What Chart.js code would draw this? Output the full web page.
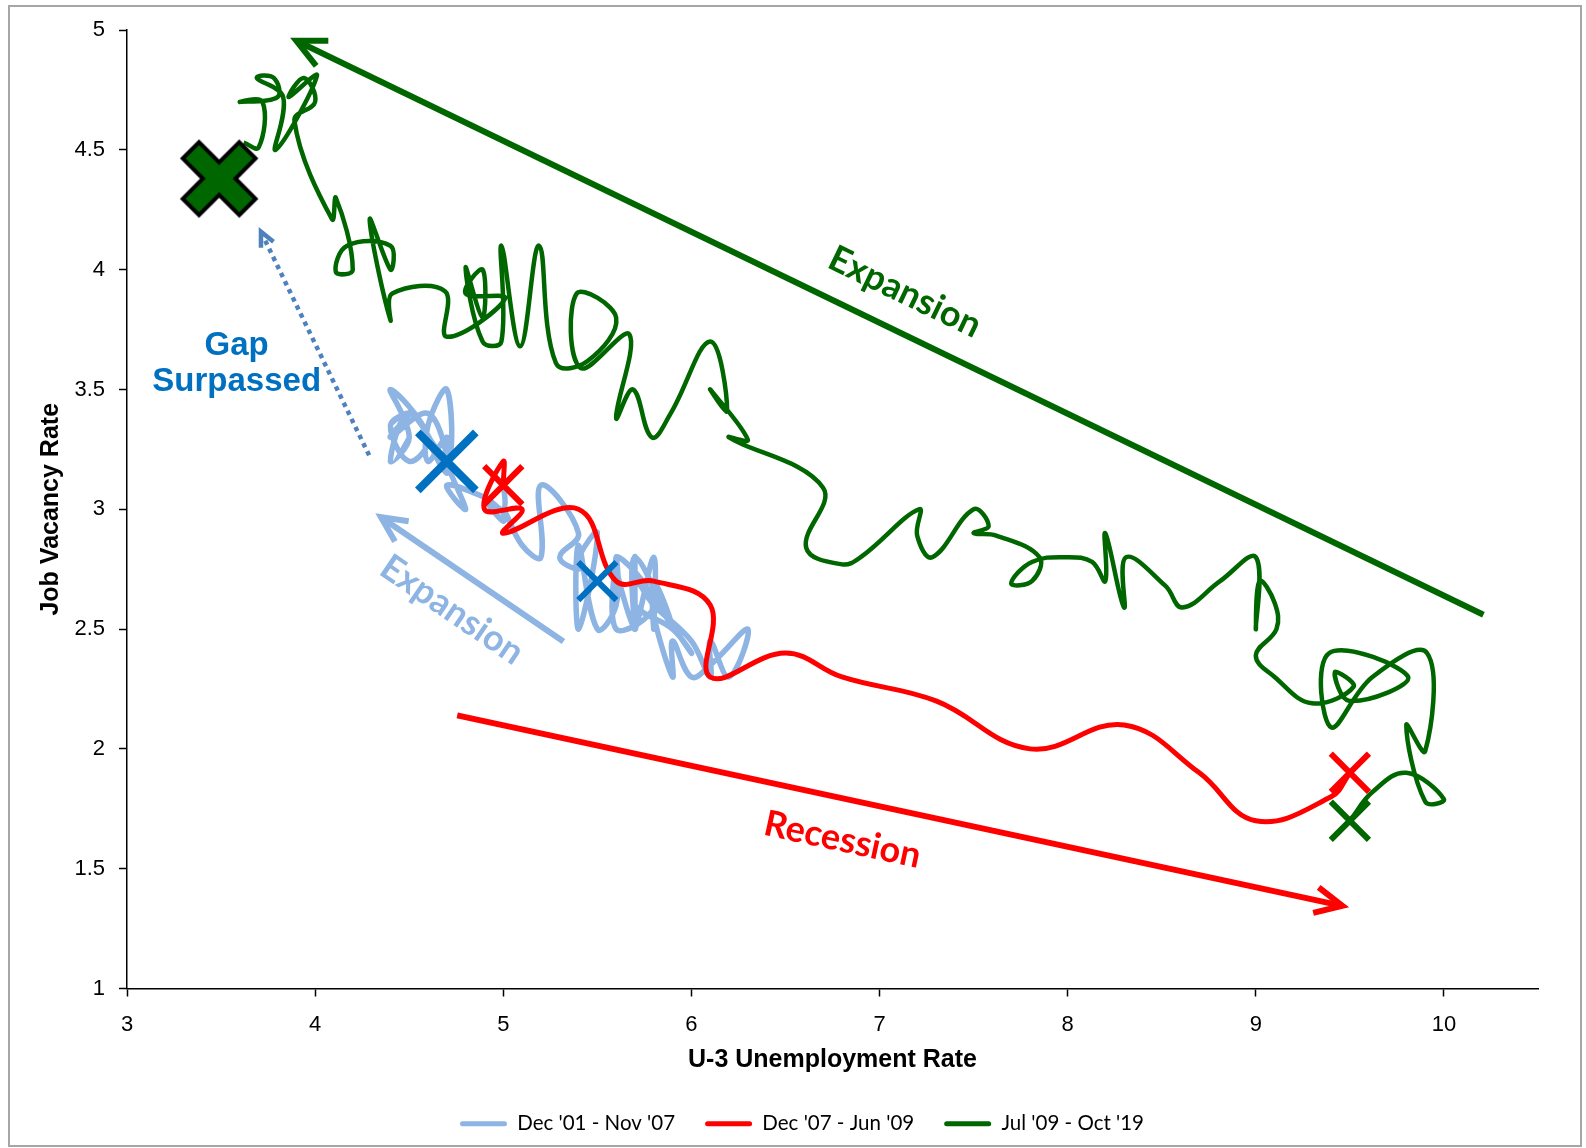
<!DOCTYPE html>
<html>
<head>
<meta charset="utf-8">
<script src="https://cdn.jsdelivr.net/npm/chart.js@4.4.1/dist/chart.umd.min.js"></script>
<style>
  html, body { margin: 0; padding: 0; background: #fff; }
  #wrap { position: relative; width: 1586px; height: 1148px; }
  #frame { position: absolute; left: 8px; top: 5px; width: 1570px; height: 1138px;
           border: 2px solid #a6a6a6; pointer-events: none; }
  canvas { position: absolute; left: 0; top: 0; }
</style>
</head>
<body>
<div id="wrap">
  <canvas id="beveridge" width="1586" height="1148"></canvas>
  <div id="frame"></div>
</div>
<script>
// Series names / colours (legend)
const seriesNames  = ["Dec '01 - Nov '07", "Dec '07 - Jun '09", "Jul '09 - Oct '19"];
const seriesColors = ['#8db4e2', '#ff0000', '#006600'];

// Dec '01 - Nov '07 : U-3 rate / job vacancy rate
const blueU = [5.7,5.7,5.7,5.7,5.9,5.8,5.8,5.8,5.7,5.7,5.7,5.9,
               6.0,5.8,5.9,5.9,6.0,6.1,6.3,6.2,6.1,6.1,6.0,5.8,
               5.7,5.7,5.6,5.8,5.6,5.6,5.6,5.5,5.4,5.4,5.5,5.4,
               5.4,5.3,5.4,5.2,5.2,5.1,5.0,5.0,4.9,5.0,5.0,5.0,
               4.9,4.7,4.8,4.7,4.7,4.6,4.6,4.7,4.7,4.5,4.4,4.5,
               4.4,4.6,4.5,4.4,4.5,4.4,4.6,4.7,4.6,4.7,4.7,4.7];
const blueV = [2.7,2.8,2.5,2.8,2.5,2.7,2.5,2.8,2.5,2.7,2.6,2.5,
               2.4,2.6,2.3,2.45,2.3,2.35,2.5,2.3,2.45,2.3,2.45,2.6,
               2.7,2.5,2.8,2.6,2.5,2.8,2.6,2.5,2.85,2.5,2.9,2.8,
               2.75,2.8,2.9,3.1,2.8,2.85,3.0,2.95,3.05,3.0,3.1,3.0,
               3.05,3.1,3.0,3.2,3.3,3.2,3.35,3.5,3.2,3.4,3.2,3.3,
               3.5,3.3,3.2,3.35,3.4,3.3,3.4,3.2,3.3,3.15,3.3,3.2];

// Dec '07 - Jun '09
const redU = [5.0,5.0,4.9,5.1,5.0,5.4,5.6,5.8,6.1,6.1,6.5,6.8,7.3,7.8,8.3,8.7,9.0,9.4,9.5];
const redV = [3.1,3.2,3.0,3.0,2.9,3.0,2.7,2.7,2.6,2.3,2.4,2.3,2.2,2.0,2.1,1.9,1.7,1.8,1.9];

// Jul '09 - Oct '19
const greenU = [9.50,9.62,9.80,10.00,9.90,9.80,9.90,9.91,9.62,9.40,
                9.39,9.81,9.50,9.42,9.52,9.30,9.10,9.00,9.11,9.10,
                9.02,9.00,9.00,8.81,8.61,8.52,8.31,8.30,8.20,8.20,
                8.13,8.00,7.81,7.70,7.81,7.85,7.62,7.50,7.58,7.50,
                7.28,7.20,7.21,6.90,6.80,6.61,6.70,6.20,6.30,6.10,
                6.19,6.10,5.89,5.79,5.69,5.60,5.67,5.41,5.39,5.60,
                5.45,5.28,5.19,5.09,4.99,4.99,4.89,4.80,4.89,4.89,
                4.80,5.01,4.70,4.69,4.41,4.40,4.29,4.40,4.40,4.17,
                4.11,4.20,4.11,4.09,3.89,4.00,3.94,3.86,4.01,3.79,
                3.83,3.69,3.78,3.80,3.60,3.72,3.70,3.62];
const greenV = [1.70,1.82,1.90,1.79,1.78,2.10,1.99,2.40,2.30,2.09,
                2.40,2.30,2.20,2.32,2.26,2.19,2.30,2.39,2.50,2.61,
                2.70,2.50,2.80,2.70,2.59,2.68,2.80,2.59,2.90,2.70,
                2.78,2.80,2.78,2.69,2.70,2.80,2.89,2.90,2.93,3.00,
                2.80,2.89,3.00,2.80,2.77,2.84,3.09,3.30,3.29,3.50,
                3.41,3.70,3.40,3.30,3.50,3.38,3.73,3.59,3.90,3.80,
                3.62,3.61,4.10,3.68,4.10,3.70,3.70,4.01,3.80,4.00,
                3.90,3.88,3.72,3.91,3.90,3.79,4.21,4.00,4.10,4.10,
                3.99,4.00,4.30,4.21,4.62,4.70,4.80,4.72,4.81,4.50,
                4.72,4.80,4.80,4.72,4.70,4.70,4.51,4.53];

// Start / end markers
const markU     = [4.7, 5.5, 5.0, 9.5, 9.5, 3.49];
const markV     = [3.2, 2.7, 3.1, 1.9, 1.7, 4.38];
const markColor = ['#0070c0', '#0070c0', '#ff0000', '#ff0000', '#006600', '#006600'];

// Axis
const xTicks = [3, 4, 5, 6, 7, 8, 9, 10];
const yTicks = [1, 1.5, 2, 2.5, 3, 3.5, 4, 4.5, 5];

// Annotation arrows  [fromU, fromV, toU, toV]
const arrowGreen = [10.21, 2.56, 3.90, 4.955];
const arrowRed   = [4.755, 2.14, 9.46, 1.345];
const arrowBlue  = [5.32, 2.448, 4.35, 2.967];
const arrowGap   = [4.287, 3.225, 3.712, 4.158];

function pts(xs, ys) {
    return xs.map((v, i) => ({ x: v, y: ys[i] }));
}

// big outlined cross used for the last point
function bigCross() {
    const size = 92, a = 11.5, d = 40;
    const c = document.createElement('canvas');
    c.width = size; c.height = size;
    const g = c.getContext('2d');
    g.translate(size / 2, size / 2);
    g.rotate(Math.PI / 4);
    g.beginPath();
    g.moveTo(-a, -d); g.lineTo(a, -d); g.lineTo(a, -a); g.lineTo(d, -a);
    g.lineTo(d, a); g.lineTo(a, a); g.lineTo(a, d); g.lineTo(-a, d);
    g.lineTo(-a, a); g.lineTo(-d, a); g.lineTo(-d, -a); g.lineTo(-a, -a);
    g.closePath();
    g.fillStyle = '#006600';
    g.fill();
    g.lineWidth = 4;
    g.lineJoin = 'miter';
    g.strokeStyle = '#000';
    g.stroke();
    return c;
}

function drawArrow(ctx, x, y, arr, color, width, head, dash) {
    const x1 = x.getPixelForValue(arr[0]), y1 = y.getPixelForValue(arr[1]);
    const x2 = x.getPixelForValue(arr[2]), y2 = y.getPixelForValue(arr[3]);
    const ang = Math.atan2(y1 - y2, x1 - x2);
    ctx.save();
    ctx.strokeStyle = color;
    ctx.lineWidth = width;
    ctx.lineCap = 'butt';
    if (dash) ctx.setLineDash(dash);
    ctx.beginPath();
    ctx.moveTo(x1, y1);
    ctx.lineTo(x2, y2);
    ctx.stroke();
    ctx.setLineDash([]);
    ctx.lineJoin = 'miter';
    ctx.beginPath();
    ctx.moveTo(x2 + head * Math.cos(ang - 0.45), y2 + head * Math.sin(ang - 0.45));
    ctx.lineTo(x2, y2);
    ctx.lineTo(x2 + head * Math.cos(ang + 0.45), y2 + head * Math.sin(ang + 0.45));
    ctx.stroke();
    ctx.restore();
}

function drawLabel(ctx, px, py, text, color, font, deg) {
    ctx.save();
    ctx.translate(px, py);
    ctx.rotate(deg * Math.PI / 180);
    ctx.font = font;
    ctx.fillStyle = color;
    ctx.textAlign = 'center';
    ctx.textBaseline = 'middle';
    ctx.fillText(text, 0, 0);
    ctx.restore();
}

const annotations = {
    id: 'annotations',
    afterLayout(chart) {
        // legend is centred a bit right of the canvas middle in the original
        chart.legend.left += 33;
        chart.legend.right += 33;
    },
    afterDatasetsDraw(chart) {
        const { ctx, scales: { x, y } } = chart;
        drawArrow(ctx, x, y, arrowGreen, '#006600', 6, 32);
        drawArrow(ctx, x, y, arrowRed, '#ff0000', 6, 30);
        drawArrow(ctx, x, y, arrowBlue, '#8db4e2', 6, 28);
        drawArrow(ctx, x, y, arrowGap, '#4f81bd', 4.5, 16, [4.5, 4.5]);

        drawLabel(ctx, x.getPixelForValue(7.134), y.getPixelForValue(3.906), 'Expansion', '#006600', 'bold 36px Lato', 25.8);
        drawLabel(ctx, x.getPixelForValue(6.803), y.getPixelForValue(1.62), 'Recession', '#ff0000', 'bold 36px Lato', 12.1);
        drawLabel(ctx, x.getPixelForValue(4.727), y.getPixelForValue(2.58), 'Expansion', '#8db4e2', 'bold 36px Lato', 34.3);
        drawLabel(ctx, x.getPixelForValue(3.583), y.getPixelForValue(3.681), 'Gap', '#0070c0', 'bold 33px "Liberation Sans"', 0);
        drawLabel(ctx, x.getPixelForValue(3.583), y.getPixelForValue(3.533), 'Surpassed', '#0070c0', 'bold 33px "Liberation Sans"', 0);
    }
};

const lineSeries = (i, xs, ys, width, order) => ({
    label: seriesNames[i],
    data: pts(xs, ys),
    showLine: true,
    borderColor: seriesColors[i],
    backgroundColor: seriesColors[i],
    borderWidth: width,
    pointRadius: 0,
    tension: 0.4,
    order: order
});

new Chart(document.getElementById('beveridge'), {
    type: 'scatter',
    data: {
        datasets: [
            lineSeries(0, blueU, blueV, 5.5, 3),
            lineSeries(1, redU, redV, 5, 2),
            lineSeries(2, greenU, greenV, 4.5, 4),
            {
                label: 'markers',
                data: pts(markU, markV),
                showLine: false,
                pointStyle: ['crossRot', 'crossRot', 'crossRot', 'crossRot', 'crossRot', bigCross()],
                pointRadius: [41, 27, 27, 27, 27, 40],
                borderWidth: [8, 6, 6, 6, 6, 0],
                borderColor: markColor,
                backgroundColor: markColor,
                order: 0
            }
        ]
    },
    options: {
        responsive: false,
        devicePixelRatio: 1,
        animation: false,
        layout: { autoPadding: false, padding: { left: 0, top: 30, right: 48, bottom: 4 } },
        plugins: {
            tooltip: { enabled: false },
            legend: {
                position: 'bottom',
                labels: {
                    boxWidth: 47,
                    boxHeight: 5,
                    padding: 30,
                    color: '#000',
                    font: { family: 'Lato', size: 20.5 },
                    useBorderRadius: true,
                    borderRadius: 2.5,
                    generateLabels: () => seriesNames.map((n, i) => ({
                        text: n, fillStyle: seriesColors[i], strokeStyle: seriesColors[i],
                        lineWidth: 0, hidden: false, datasetIndex: i, borderRadius: 2.5, fontColor: '#000'
                    }))
                }
            }
        },
        scales: {
            x: {
                type: 'linear',
                min: 3, max: 10.5,
                afterFit: s => { s.height = 95; s.paddingLeft = 0; s.paddingRight = 0; },
                afterBuildTicks: s => { s.ticks = xTicks.map(v => ({ value: v })); },
                border: { color: '#000', width: 1.5 },
                grid: { drawOnChartArea: false, drawTicks: true, tickLength: 8, tickColor: '#000', tickWidth: 1.5 },
                ticks: { color: '#000', padding: 15, font: { family: 'Liberation Sans', size: 22 } },
                title: {
                    display: true, text: 'U-3 Unemployment Rate', color: '#000',
                    font: { family: 'Liberation Sans', size: 25, weight: 'bold' },
                    padding: { top: 0, bottom: 8 }
                }
            },
            y: {
                type: 'linear',
                min: 1, max: 5,
                afterFit: s => { s.width = 127; s.paddingTop = 0; s.paddingBottom = 0; },
                afterBuildTicks: s => { s.ticks = yTicks.map(v => ({ value: v })); },
                border: { color: '#000', width: 1.5 },
                grid: { drawOnChartArea: false, drawTicks: true, tickLength: 8, tickColor: '#000', tickWidth: 1.5 },
                ticks: { color: '#000', padding: 14, font: { family: 'Liberation Sans', size: 22 },
                         callback: v => String(v) },
                title: {
                    display: true, text: 'Job Vacancy Rate', color: '#000',
                    font: { family: 'Liberation Sans', size: 25, weight: 'bold' },
                    padding: { top: 36, bottom: 0 }
                }
            }
        }
    },
    plugins: [annotations]
});
</script>
</body>
</html>
